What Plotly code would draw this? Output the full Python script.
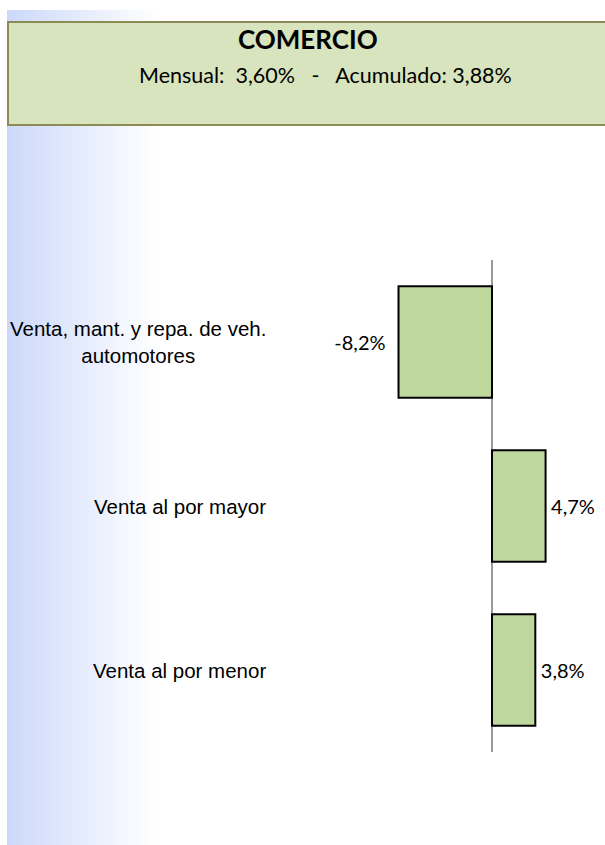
import plotly.graph_objects as go

categories = ["Venta, mant. y repa. de veh.<br>automotores", "Venta al por mayor", "Venta al por menor"]
values = [-8.2, 4.7, 3.8]
title_main = "COMERCIO"
mensual = 3.60
acumulado = 3.88

W, H = 605, 845

def fmt(v, d=1):
    return f"{v:.{d}f}".replace(".", ",") + "%"

# small spacer between bar end and its label
labels = [(fmt(v) + "\u2002") if v < 0 else ("\u2009" + fmt(v)) for v in values]

fig = go.Figure()
fig.add_trace(go.Bar(
    y=list(range(len(categories))), x=values, orientation="h",
    marker=dict(color="#bdd79c", line=dict(color="#000000", width=2)),
    text=labels, textposition="outside", cliponaxis=False,
    textfont=dict(family="Lato, Open Sans, sans-serif", size=20, color="#000000"),
    width=0.68, showlegend=False, hoverinfo="skip",
))

def py(px):
    return 1 - px / H

shapes = []
# left gradient strip
x0g, x1g = 7, 158
n = 60
c0 = (204, 217, 250)
for i in range(n):
    t = i / (n - 1)
    r = int(round(c0[0] + (255 - c0[0]) * t))
    g = int(round(c0[1] + (255 - c0[1]) * t))
    b = int(round(c0[2] + (255 - c0[2]) * t))
    xa = x0g + (x1g - x0g) * i / n
    xb = x0g + (x1g - x0g) * (i + 1) / n + 0.6
    shapes.append(dict(type="rect", xref="paper", yref="paper",
                       x0=xa / W, x1=xb / W, y0=0, y1=py(10),
                       fillcolor=f"rgb({r},{g},{b})", line=dict(width=0), layer="below"))
# header box
shapes.append(dict(type="rect", xref="paper", yref="paper",
                   x0=8 / W, x1=1.02, y0=py(125), y1=py(22),
                   fillcolor="#d7e4bd", line=dict(color="#8c8a55", width=2), layer="below"))

annotations = [
    dict(text=f"<b>{title_main}</b>", xref="paper", yref="paper", x=307.5 / W, y=py(39),
         showarrow=False, xanchor="center", yanchor="middle",
         font=dict(family="Lato, Open Sans, sans-serif", size=26, color="#000000")),
    dict(text=f"Mensual:  {fmt(mensual, 2)}   -   Acumulado: {fmt(acumulado, 2)}",
         xref="paper", yref="paper", x=325 / W, y=py(75),
         showarrow=False, xanchor="center", yanchor="middle",
         font=dict(family="Lato, Open Sans, sans-serif", size=21.5, color="#000000")),
]
for i, c in enumerate(categories):
    annotations.append(dict(text=c, xref="paper", yref="y", x=268 / W, y=i,
                            showarrow=False, xanchor="right", yanchor="middle", align="center",
                            font=dict(family="Liberation Sans Narrow, Arial Narrow, Liberation Sans, Arial, sans-serif",
                                      size=20.5, color="#000000")))

# x scale: zero at 492px, ~11.4 px per unit, plot spans full width
ppu = 11.4
r0 = -492 / ppu
r1 = (W - 492) / ppu

fig.update_layout(
    width=W, height=H, margin=dict(l=0, r=0, t=0, b=0, pad=0),
    paper_bgcolor="white", plot_bgcolor="rgba(0,0,0,0)",
    shapes=shapes, annotations=annotations,
    xaxis=dict(domain=[0, 1], range=[r0, r1], showgrid=False, showticklabels=False, ticks="",
               zeroline=True, zerolinecolor="#9a9a9a", zerolinewidth=1.5, fixedrange=True),
    yaxis=dict(domain=[1 - 752 / H, 1 - 260 / H], range=[2.5, -0.5], showgrid=False,
               showticklabels=False, ticks="", zeroline=False, fixedrange=True),
)

fig.write_html("out.html", config={"displayModeBar": False},
               post_script="document.body.style.margin='0';document.body.style.padding='0';")
